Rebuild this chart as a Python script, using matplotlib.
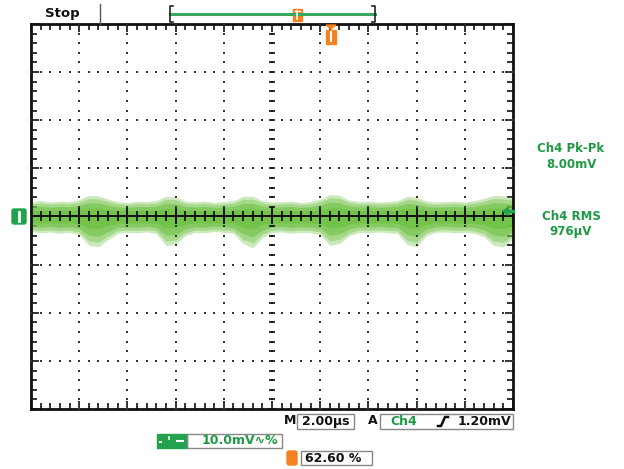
import matplotlib
matplotlib.use("Agg")
import matplotlib.pyplot as plt
from matplotlib.ticker import MultipleLocator
from matplotlib.patches import Rectangle, FancyBboxPatch, Polygon
import numpy as np

# Scope settings (10 mV/div, 2 us/div)
volts_per_div = 10.0   # mV
time_per_div = 2.0     # us

t_us = [i * 0.4 for i in range(51)]
env_upper = [3.1, 3.3, 3.0, 3.2, 3.1, 3.5, 4.4, 4.3, 3.6, 3.1,
             2.9, 3.2, 3.1, 3.3, 4.2, 4.1, 3.2, 3.0, 3.2, 2.9,
             3.1, 3.3, 4.2, 4.2, 3.3, 3.0, 3.1, 3.2, 2.9, 3.1,
             3.6, 4.6, 4.4, 3.4, 3.1, 3.2, 3.0, 3.1, 3.3, 4.2,
             4.0, 3.2, 3.0, 3.1, 3.2, 3.0, 3.3, 3.8, 4.4, 4.3, 4.0]
env_lower = [-3.1, -3.4, -3.2, -3.5, -3.3, -3.8, -6.0, -6.3, -4.8, -3.5,
             -3.3, -3.4, -3.2, -3.5, -6.0, -5.8, -4.0, -3.3, -3.4, -3.1,
             -3.3, -3.5, -5.6, -6.5, -4.4, -3.3, -3.2, -3.5, -3.3, -3.4,
             -3.8, -6.0, -5.6, -4.0, -3.3, -3.4, -3.2, -3.4, -3.5, -5.8,
             -6.3, -4.0, -3.3, -3.2, -3.4, -3.3, -3.5, -4.2, -6.0, -6.3, -4.7]

pk_pk_label = "Ch4 Pk-Pk"
pk_pk_value = "8.00mV"
rms_label = "Ch4 RMS"
rms_value = "976µV"
timebase = "2.00µs"
trig_level = "1.20mV"
ch_scale = "10.0mV∿%"
trig_pos = "62.60 %"
trig_level_mv = 1.2

GREEN_TXT = "#1f9a44"
GREEN_BOX = "#22a24c"
TRACE = "#6cc040"
ORANGE = "#f58220"
W, H = 624, 469

fig = plt.figure(figsize=(W / 100, H / 100), dpi=100)
fig.patch.set_facecolor("white")

# main graticule area
ax = fig.add_axes([31 / W, 60 / H, 482 / W, 385 / H])
xmax = 10 * time_per_div
ymax = 4 * volts_per_div
ax.set_xlim(0, xmax)
ax.set_ylim(-ymax, ymax)
for s in ax.spines.values():
    s.set_linewidth(2)
    s.set_color("#111111")
ax.xaxis.set_major_locator(MultipleLocator(time_per_div))
ax.xaxis.set_minor_locator(MultipleLocator(time_per_div / 5))
ax.yaxis.set_major_locator(MultipleLocator(volts_per_div))
ax.yaxis.set_minor_locator(MultipleLocator(volts_per_div / 5))
ax.tick_params(which="both", direction="in", top=True, right=True,
               labelbottom=False, labelleft=False, color="#111111", width=1.2)
ax.tick_params(which="major", length=6)
ax.tick_params(which="minor", length=4)

# trace: layered fill to mimic the persistence display
up = np.array(env_upper)
lo = np.array(env_lower)
for k, a in [(1.0, 0.35), (0.85, 0.4), (0.65, 0.55), (0.4, 0.7)]:
    ax.fill_between(t_us, up * k, lo * k, color=TRACE, alpha=a, lw=0, zorder=2)

# dotted grid
minor_x = np.arange(0, xmax + 1e-9, time_per_div / 5)
minor_y = np.arange(-ymax, ymax + 1e-9, volts_per_div / 5)
for gx in np.arange(time_per_div, xmax, time_per_div):
    ax.scatter(np.full(len(minor_y), gx), minor_y, s=3, marker="s",
               color="#333333", lw=0, zorder=3)
for gy in np.arange(-ymax + volts_per_div, ymax, volts_per_div):
    if abs(gy) < 1e-9:
        continue
    ax.scatter(minor_x, np.full(len(minor_x), gy), s=3, marker="s",
               color="#333333", lw=0, zorder=3)

# center cross with ticks
ax.axhline(0, color="#111111", lw=1.4, zorder=4)
ax.plot(minor_x, np.zeros(len(minor_x)), ls="none", marker="|", ms=7,
        mew=1.3, color="#111111", zorder=4)
ax.plot(np.arange(0, xmax + 1e-9, time_per_div), np.zeros(11), ls="none",
        marker="|", ms=11, mew=1.3, color="#111111", zorder=4)
ax.plot(np.full(len(minor_y), xmax / 2), minor_y, ls="none", marker="_",
        ms=4, mew=1.2, color="#111111", zorder=4)

# overlay in pixel coordinates for the scope readouts
ov = fig.add_axes([0, 0, 1, 1], zorder=5)
ov.set_xlim(0, W)
ov.set_ylim(H, 0)
ov.axis("off")
ov.patch.set_visible(False)

bold = dict(fontweight="bold", family="DejaVu Sans")

ov.text(62, 13, "Stop", fontsize=9.5, ha="center", va="center", color="#111111", **bold)
ov.plot([100, 100], [4, 24], color="#555555", lw=1)

# record bar
ov.plot([170, 375], [14, 14], color="#3aa860", lw=2.2)
ov.plot([173, 170, 170, 173], [6, 6, 22, 22], color="#222222", lw=1.2)
ov.plot([372, 375, 375, 372], [6, 6, 22, 22], color="#222222", lw=1.2)
ov.add_patch(Rectangle((292.5, 9), 9, 12, color=ORANGE))
ov.plot([294.5, 299.5], [11, 11], color="white", lw=1)
ov.plot([297, 297], [11, 19], color="white", lw=1.2)

# trigger position marker
ov.add_patch(Polygon([[326, 25], [336, 25], [331, 29]], closed=True, color=ORANGE))
ov.add_patch(Rectangle((326, 30), 10, 14, color=ORANGE))
ov.plot([331, 331], [32, 41], color="white", lw=1.5)

# channel ground marker on the left
ov.add_patch(FancyBboxPatch((12, 209), 14, 15, boxstyle="round,pad=0,rounding_size=2",
                            color=GREEN_BOX))
ov.plot([19, 19], [212, 221], color="white", lw=2)

# trigger level arrow on the right
y_trig = 217 - trig_level_mv / volts_per_div * 48.1
ov.add_patch(Polygon([[503, y_trig], [508, y_trig - 4], [508, y_trig + 4]],
                     closed=True, color=GREEN_BOX))
ov.plot([507, 513], [y_trig, y_trig], color=GREEN_BOX, lw=2.5)

# measurements
ov.text(571, 148, pk_pk_label, fontsize=8.5, ha="center", va="center", color=GREEN_TXT, **bold)
ov.text(571, 164, pk_pk_value, fontsize=8.5, ha="center", va="center", color=GREEN_TXT, **bold)
ov.text(571, 216, rms_label, fontsize=8.5, ha="center", va="center", color=GREEN_TXT, **bold)
ov.text(571, 231, rms_value, fontsize=8.5, ha="center", va="center", color=GREEN_TXT, **bold)

# bottom readouts
box_kw = dict(fill=False, ec="#888888", lw=1)
ov.text(290, 421, "M", fontsize=9, ha="center", va="center", color="#111111", **bold)
ov.add_patch(Rectangle((297, 414), 57, 15, **box_kw))
ov.text(325.5, 421.5, timebase, fontsize=9, ha="center", va="center", color="#111111", **bold)
ov.text(373, 421, "A", fontsize=9, ha="center", va="center", color="#111111", **bold)
ov.add_patch(Rectangle((380, 414), 133, 15, **box_kw))
ov.text(404, 421.5, "Ch4", fontsize=9, ha="center", va="center", color=GREEN_TXT, **bold)
ov.plot([438, 441, 445, 448], [426, 426, 417, 417], color="#111111", lw=1.8)
ov.text(484, 421.5, trig_level, fontsize=9, ha="center", va="center", color="#111111", **bold)

ov.add_patch(Rectangle((157, 434), 30, 14, color=GREEN_BOX))
ov.plot([160, 161], [442, 442], color="white", lw=1.5)
ov.plot([169, 169], [437, 439], color="white", lw=1.2)
ov.plot([177, 183], [441, 441], color="white", lw=1.5)
ov.add_patch(Rectangle((187, 434), 95, 14, **box_kw))
ov.text(240, 441, ch_scale, fontsize=9, ha="center", va="center", color=GREEN_TXT, **bold)

ov.add_patch(FancyBboxPatch((287, 451), 10, 14, boxstyle="round,pad=0,rounding_size=2",
                            color=ORANGE))
ov.add_patch(Rectangle((301, 451), 71, 14, **box_kw))
ov.text(305, 458.5, trig_pos, fontsize=9, ha="left", va="center", color="#111111", **bold)

fig.savefig("out.png", dpi=100)
